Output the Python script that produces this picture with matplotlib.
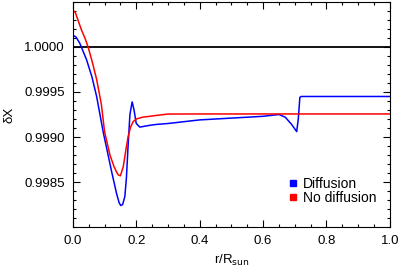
import numpy as np
import matplotlib.pyplot as plt

plt.rcParams['font.family'] = ['Liberation Sans', 'DejaVu Sans']

# radius values (r/Rsun) and relative hydrogen abundance
r_diff = [0.0, 0.01, 0.022, 0.043, 0.06, 0.075, 0.096, 0.11, 0.122, 0.138,
          0.146, 0.151, 0.157, 0.164, 0.169, 0.174, 0.18, 0.187, 0.193, 0.2,
          0.211, 0.243, 0.264, 0.3, 0.35, 0.4, 0.45, 0.5, 0.55, 0.6, 0.65,
          0.67, 0.69, 0.706, 0.711, 0.716, 0.72, 0.8, 0.9, 1.0]
x_diff = [1.00013, 1.00011, 1.00004, 0.99986, 0.99967, 0.99945, 0.99905,
          0.99882, 0.99862, 0.99837, 0.99827, 0.99824, 0.99825, 0.99834,
          0.99855, 0.99889, 0.99925, 0.99939, 0.99930, 0.99915, 0.99911,
          0.99913, 0.99914, 0.99915, 0.99917, 0.99919, 0.99920, 0.99921,
          0.99922, 0.99923, 0.99925, 0.99922, 0.99914, 0.99906, 0.99920,
          0.99944, 0.99945, 0.99945, 0.99945, 0.99945]

r_nodiff = [0.0, 0.008, 0.015, 0.027, 0.038, 0.048, 0.06, 0.075, 0.09, 0.1,
            0.117, 0.13, 0.138, 0.143, 0.15, 0.159, 0.166, 0.174, 0.182,
            0.19, 0.2, 0.22, 0.243, 0.264, 0.3, 0.4, 0.6, 0.8, 1.0]
x_nodiff = [1.00041, 1.00038, 1.00031, 1.00019, 1.00010, 1.00000, 0.99985,
            0.99964, 0.99936, 0.99906, 0.99880, 0.99867, 0.99861, 0.99858,
            0.99857, 0.99867, 0.99883, 0.99900, 0.99911, 0.99917, 0.99920,
            0.99922, 0.99923, 0.99924, 0.999255, 0.999256, 0.999256,
            0.999256, 0.999256]


def main():
    fig = plt.figure(figsize=(4.07, 2.71), dpi=100)
    ax = fig.add_axes([0.179, 0.162, 0.779, 0.831])

    ax.axhline(1.0, color='black', lw=1.3)
    ax.plot(r_diff, x_diff, color='#0000ff', lw=1.1, label='Diffusion')
    ax.plot(r_nodiff, x_nodiff, color='#ff0000', lw=1.1, label='No diffusion')

    ax.set_xlim(0, 1)
    ax.set_ylim(0.9980, 1.0005)
    ax.set_xticks(np.arange(0, 1.01, 0.2))
    ax.set_xticks(np.arange(0, 1.001, 0.05), minor=True)
    ax.set_yticks([0.9985, 0.9990, 0.9995, 1.0000])
    ax.set_yticks(np.arange(0.9980, 1.00051, 0.0001), minor=True)
    ax.set_yticklabels(['0.9985', '0.9990', '0.9995', '1.0000'])
    ax.set_xticklabels(['0.0', '0.2', '0.4', '0.6', '0.8', '1.0'])
    ax.tick_params(which='both', direction='in', top=True, right=True,
                   labelsize=9.5, width=0.8)
    ax.tick_params(which='major', length=5, pad=6)
    ax.tick_params(which='minor', length=2.5)

    ax.set_xlabel(r'r/R$_{\rm sun}$', fontsize=9.5, labelpad=4)
    ax.set_ylabel('δX', fontsize=9.5, labelpad=6)

    handles = [plt.Line2D([], [], marker='s', ls='', color=c, markersize=5)
               for c in ('#0000ff', '#ff0000')]
    ax.legend(handles, ['Diffusion', 'No diffusion'], loc='lower right',
              frameon=False, fontsize=10, handlelength=0.6,
              handletextpad=0.4, labelspacing=0.0,
              bbox_to_anchor=(0.996, 0.042))

    fig.savefig('out.png', dpi=100)


if __name__ == "__main__":
    main()
